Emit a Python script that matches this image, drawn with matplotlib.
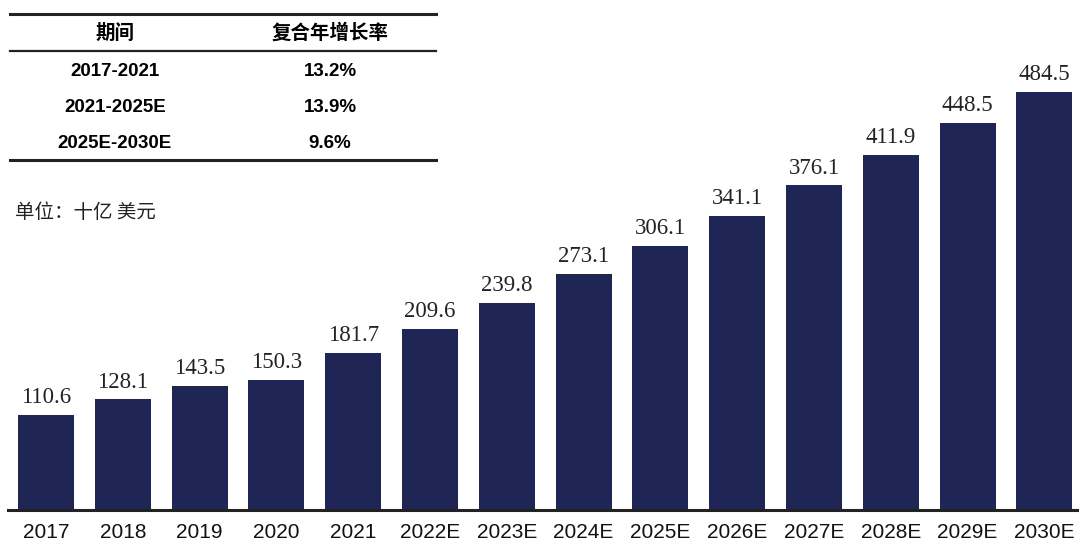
import matplotlib.pyplot as plt
from matplotlib.lines import Line2D

years = ['2017', '2018', '2019', '2020', '2021', '2022E', '2023E', '2024E',
         '2025E', '2026E', '2027E', '2028E', '2029E', '2030E']
values = [110.6, 128.1, 143.5, 150.3, 181.7, 209.6, 239.8, 273.1,
          306.1, 341.1, 376.1, 411.9, 448.5, 484.5]

periods = ['2017-2021', '2021-2025E', '2025E-2030E']
cagr = ['13.2%', '13.9%', '9.6%']

W, H = 1079, 545
fig = plt.figure(figsize=(W / 100, H / 100), dpi=100)
ax = fig.add_axes([8 / W, 35 / H, 1071 / W, 510 / H])

bar_color = '#1f2656'
x = range(len(years))
bars = ax.bar(x, values, width=0.73, color=bar_color)
for xi, v in zip(x, values):
    ax.annotate(f'{v:.1f}', (xi, v), xytext=(0, 5), textcoords='offset points',
                ha='center', va='bottom', fontsize=16.5, family='Liberation Serif',
                color='#222222')

ax.set_xlim(-0.495, 13.45)
ax.set_ylim(0, 591)
ax.set_xticks(list(x))
ax.set_xticklabels(years, fontsize=15, family='Liberation Sans', color='#111111')
ax.tick_params(axis='x', length=0, pad=9)
ax.set_yticks([])
for s in ['top', 'right', 'left']:
    ax.spines[s].set_visible(False)
ax.spines['bottom'].set_linewidth(2.2)
ax.spines['bottom'].set_color('#222222')

# table of growth rates
cjk = ['Liberation Sans', 'Noto Sans CJK SC']


def px(xp, yp):
    return xp / W, 1 - yp / H


for yl, lw in [(14, 2.2), (51, 1.6), (160, 2.2)]:
    x0, y0 = px(10, yl)
    x1, _ = px(436, yl)
    fig.add_artist(Line2D([x0, x1], [y0, y0], color='#222222', lw=lw,
                          transform=fig.transFigure))

fig.text(*px(115, 33), '期间', ha='center', va='center', fontsize=14,
         fontweight='bold', family=cjk)
fig.text(*px(330, 33), '复合年增长率', ha='center', va='center', fontsize=14,
         fontweight='bold', family=cjk)
for i, (p, c) in enumerate(zip(periods, cagr)):
    yrow = 71 + i * 36.5
    fig.text(*px(115, yrow), p, ha='center', va='center', fontsize=13.5,
             fontweight='bold', family=cjk)
    fig.text(*px(330, yrow), c, ha='center', va='center', fontsize=13.5,
             fontweight='bold', family=cjk)

fig.text(*px(15, 212), '单位：十亿 美元', ha='left', va='center', fontsize=14,
         family=['Noto Sans CJK SC', 'DejaVu Sans'], color='#222222')

fig.savefig('out.png', dpi=100)
